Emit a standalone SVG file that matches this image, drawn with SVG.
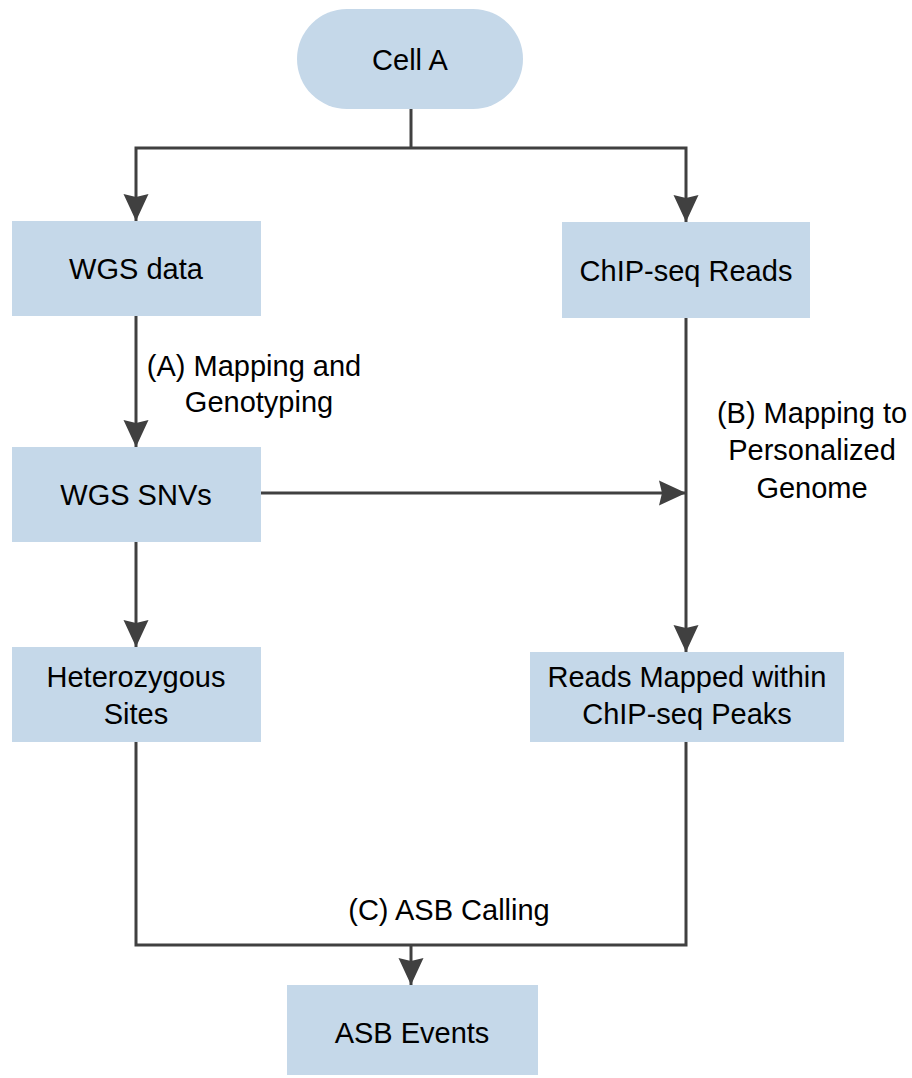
<svg xmlns="http://www.w3.org/2000/svg" width="912" height="1078" viewBox="0 0 912 1078">
<style>
.node{fill:#C5D8E9;stroke:none}
.t{font-family:"Liberation Sans",Arial,sans-serif;font-size:29px;fill:#000;text-anchor:middle}
.c{fill:none;stroke:#404040;stroke-width:3}
</style>
<defs>
<marker id="ah" markerUnits="userSpaceOnUse" markerWidth="28" markerHeight="26" refX="27" refY="12.5" orient="auto" viewBox="0 0 28 25">
<path d="M0,0 L27,12.5 L0,25 L3,12.5 z" fill="#404040"/>
</marker>
</defs>
<rect width="912" height="1078" fill="#fff"/>
<g id="connectors">
<path class="c" d="M411,109 V148"/>
<path class="c" d="M411,148 H136 V221" marker-end="url(#ah)"/>
<path class="c" d="M411,148 H686 V222" marker-end="url(#ah)"/>
<path class="c" d="M136,316 V447" marker-end="url(#ah)"/>
<path class="c" d="M261,493 H686" marker-end="url(#ah)"/>
<path class="c" d="M686,318 V652" marker-end="url(#ah)"/>
<path class="c" d="M136,542 V647" marker-end="url(#ah)"/>
<path class="c" d="M136,742 V945 H686 V742"/>
<path class="c" d="M411,945 V985" marker-end="url(#ah)"/>
</g>
<g id="label-a"><text class="t" x="254" y="376">(A) Mapping and</text><text class="t" x="259" y="412">Genotyping</text></g>
<g id="label-b"><text class="t" x="812" y="423">(B) Mapping to</text><text class="t" x="812" y="460">Personalized</text><text class="t" x="812" y="498">Genome</text></g>
<g id="label-c"><text class="t" x="449" y="920">(C) ASB Calling</text></g>
<g id="cell-a"><rect class="node" x="297" y="9" width="226" height="100" rx="50" ry="50"/><text class="t" x="410" y="70">Cell A</text></g>
<g id="wgs-data"><rect class="node" x="12" y="221" width="249" height="95"/><text class="t" x="136" y="279">WGS data</text></g>
<g id="chip-reads"><rect class="node" x="562" y="222" width="248" height="96"/><text class="t" x="686" y="281">ChIP-seq Reads</text></g>
<g id="wgs-snvs"><rect class="node" x="12" y="447" width="249" height="95"/><text class="t" x="136" y="505">WGS SNVs</text></g>
<g id="het-sites"><rect class="node" x="12" y="647" width="249" height="95"/><text class="t" x="136" y="687">Heterozygous</text><text class="t" x="136" y="724">Sites</text></g>
<g id="reads-mapped"><rect class="node" x="530" y="652" width="314" height="90"/><text class="t" x="687" y="687">Reads Mapped within</text><text class="t" x="687" y="724">ChIP-seq Peaks</text></g>
<g id="asb-events"><rect class="node" x="287" y="985" width="251" height="90"/><text class="t" x="412" y="1043">ASB Events</text></g>
</svg>
